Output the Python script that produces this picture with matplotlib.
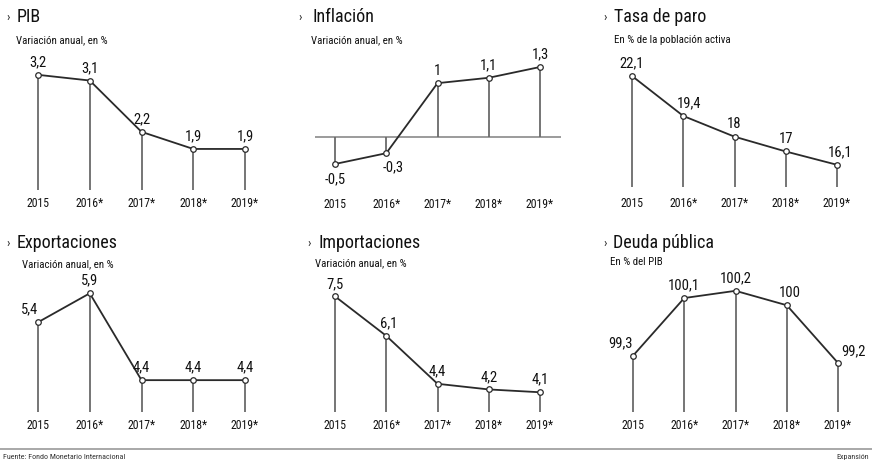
import matplotlib
matplotlib.use("Agg")
import matplotlib.pyplot as plt
from matplotlib import font_manager

# datos (FMI)
years = ["2015", "2016*", "2017*", "2018*", "2019*"]
pib = [3.2, 3.1, 2.2, 1.9, 1.9]
inflacion = [-0.5, -0.3, 1.0, 1.1, 1.3]
paro = [22.1, 19.4, 18.0, 17.0, 16.1]
exportaciones = [5.4, 5.9, 4.4, 4.4, 4.4]
importaciones = [7.5, 6.1, 4.4, 4.2, 4.1]
deuda = [99.3, 100.1, 100.2, 100.0, 99.2]

W, H = 872, 461

# fuente estrecha si existe
names = {f.name for f in font_manager.fontManager.ttflist}
fam = "DejaVu Sans"
for cand in ["Roboto Condensed", "Liberation Sans Narrow", "DejaVu Sans Condensed"]:
    if cand in names:
        fam = cand
        break
plt.rcParams["font.family"] = [fam, "DejaVu Sans"]

INK = "#2a2a2a"
GRIS = "#6a6a6a"

fig = plt.figure(figsize=(W / 100, H / 100), dpi=100)
fig.patch.set_facecolor("white")


def fmt(v):
    if float(v).is_integer():
        return str(int(v))
    return f"{v:.1f}".replace(".", ",")


def panel(vals, x2015, dx, top, bottom, ylim, base, pad, offs=None):
    left = x2015 - 0.4 * dx
    ax = fig.add_axes([left / W, 1 - bottom / H, 4.8 * dx / W, (bottom - top) / H])
    x = list(range(len(vals)))
    ax.set_xlim(-0.4, 4.4)
    ax.set_ylim(*ylim)
    b = ylim[0] if base is None else base
    if base is not None:
        ax.axhline(base, color="#8a8a8a", lw=1.2, zorder=1)
    ax.vlines(x, b, vals, color=GRIS, lw=1.3, zorder=1)
    ax.plot(x, vals, color=INK, lw=1.3, zorder=2)
    ax.plot(x, vals, "o", ms=4, mfc="white", mec=INK, mew=0.9, zorder=3)
    offs = offs or {}
    for i, v in enumerate(vals):
        ox, oy, va = offs.get(i, (0, 4, "bottom"))
        ax.annotate(fmt(v), (i, v), xytext=(ox, oy), textcoords="offset points",
                    ha="center", va=va, fontsize=10.5, color="#111111")
    ax.set_xticks(x)
    ax.set_xticklabels(years, fontsize=8.5, color="#111111")
    ax.tick_params(axis="x", length=0, pad=pad)
    ax.set_yticks([])
    for s in ax.spines.values():
        s.set_visible(False)
    ax.patch.set_alpha(0)
    return ax


panel(pib, 38, 51.75, 60, 190, (1.18, 3.46), None, 5)
panel(inflacion, 335, 51.25, 60, 185, (-0.89, 1.43), 0.0, 9,
      {0: (0, -6, "top"), 1: (5, -5, "top")})
panel(paro, 632, 51.25, 60, 187, (14.6, 23.18), None, 7,
      {1: (4, 4, "bottom"), 4: (2, 4, "bottom")})
panel(exportaciones, 38, 51.75, 280, 412, (3.85, 6.13), None, 5,
      {0: (-6, 4, "bottom")})
panel(importaciones, 335, 51.25, 280, 412, (3.4, 8.08), None, 5,
      {1: (2, 4, "bottom")})
panel(deuda, 633, 51.25, 280, 412, (98.52, 100.35), None, 5,
      {0: (-9, 4, "bottom"), 3: (2, 4, "bottom"), 4: (11, 3, "bottom")})

# titulos
titulos = [
    (6, 17, "PIB", 16, 40, "Variación anual, en %"),
    (298, 312, "Inflación", 311, 40, "Variación anual, en %"),
    (603, 614, "Tasa de paro", 614, 40, "En % de la población activa"),
    (6, 17, "Exportaciones", 22, 264, "Variación anual, en %"),
    (307, 318, "Importaciones", 315, 263, "Variación anual, en %"),
    (603, 613, "Deuda pública", 610, 262, "En % del PIB"),
]
for i, (xa, xt, t, xs, ys, sub) in enumerate(titulos):
    yt = 17 if i < 3 else 243
    fig.text(xa / W, 1 - yt / H, "›", fontsize=9, va="center", color="#222222")
    fig.text(xt / W, 1 - yt / H, t, fontsize=13, va="center", color="#111111")
    fig.text(xs / W, 1 - ys / H, sub, fontsize=7.8, va="center", color="#111111")

# pie
fig.add_artist(plt.Line2D([0, 1], [1 - 449 / H, 1 - 449 / H], color="#9a9a9a", lw=1.2))
fig.text(3 / W, 1 - 457 / H, "Fuente: Fondo Monetario Internacional", fontsize=5.8,
         va="center", color="#333333")
fig.text(869 / W, 1 - 457 / H, "Expansión", fontsize=5.8, va="center", ha="right",
         color="#333333")

fig.savefig("out.png", dpi=100, facecolor="white")
